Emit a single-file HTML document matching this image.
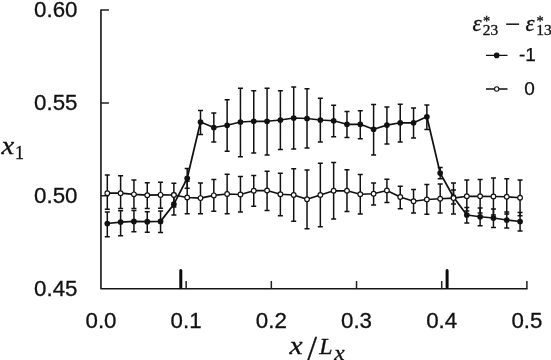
<!DOCTYPE html>
<html><head><meta charset="utf-8"><title>chart</title>
<style>
html,body{margin:0;padding:0;background:#fff;}
body{width:551px;height:360px;overflow:hidden;}
svg{display:block}
.t{font-family:"Liberation Sans",sans-serif;font-size:22.3px;fill:#111;stroke:#111;stroke-width:.3px}
.l{font-family:"Liberation Sans",sans-serif;font-size:19px;fill:#111;stroke:#111;stroke-width:.25px}
.m{font-family:"Liberation Serif","DejaVu Serif",serif;font-style:italic;fill:#111;stroke:#111;stroke-width:.3px}
</style></head><body>
<svg width="551" height="360" viewBox="0 0 551 360">
<rect width="551" height="360" fill="#fff"/>
<path d="M100.95 9.4V288.7H527.5" fill="none" stroke="#151515" stroke-width="1.6" stroke-linejoin="round"/><path d="M186.14 288.7v-7.6M271.33 288.7v-7.6M356.52 288.7v-7.6M441.71 288.7v-7.6M526.90 288.7v-7.6M100.95 195.80h8M100.95 102.90h8M100.95 10.00h8" fill="none" stroke="#222" stroke-width="1.5"/><path d="M180.8 287.2V270.4M447.1 287.2V270.4" fill="none" stroke="#0a0a0a" stroke-width="3" stroke-linecap="round"/>
<g fill="none" stroke="#111" stroke-width="1.5">
<path d="M107.30 212.00V236.70M104.80 212.00h5.0M104.80 236.70h5.0M120.61 210.80V235.70M118.11 210.80h5.0M118.11 235.70h5.0M133.93 210.40V231.80M131.43 210.40h5.0M131.43 231.80h5.0M147.25 211.80V232.20M144.75 211.80h5.0M144.75 232.20h5.0M160.56 211.00V232.50M158.06 211.00h5.0M158.06 232.50h5.0M173.88 193.50V215.00M171.38 193.50h5.0M171.38 215.00h5.0M187.19 168.40V188.30M184.69 168.40h5.0M184.69 188.30h5.0M200.50 110.50V134.50M198.00 110.50h5.0M198.00 134.50h5.0M213.82 113.00V142.00M211.32 113.00h5.0M211.32 142.00h5.0M227.13 99.75V151.25M224.63 99.75h5.0M224.63 151.25h5.0M240.45 88.25V156.75M237.95 88.25h5.0M237.95 156.75h5.0M253.76 90.75V153.00M251.26 90.75h5.0M251.26 153.00h5.0M267.08 88.25V155.00M264.58 88.25h5.0M264.58 155.00h5.0M280.39 90.75V149.50M277.89 90.75h5.0M277.89 149.50h5.0M293.71 87.00V149.00M291.21 87.00h5.0M291.21 149.00h5.0M307.02 88.75V148.00M304.52 88.75h5.0M304.52 148.00h5.0M320.34 98.25V142.00M317.84 98.25h5.0M317.84 142.00h5.0M333.65 105.25V136.75M331.15 105.25h5.0M331.15 136.75h5.0M346.97 111.50V137.50M344.47 111.50h5.0M344.47 137.50h5.0M360.28 110.75V138.75M357.78 110.75h5.0M357.78 138.75h5.0M373.60 104.50V155.00M371.10 104.50h5.0M371.10 155.00h5.0M386.92 107.00V144.10M384.42 107.00h5.0M384.42 144.10h5.0M400.23 104.25V142.00M397.73 104.25h5.0M397.73 142.00h5.0M413.55 108.00V138.00M411.05 108.00h5.0M411.05 138.00h5.0M426.86 105.00V129.50M424.36 105.00h5.0M424.36 129.50h5.0M440.18 167.50V178.75M437.68 167.50h5.0M437.68 178.75h5.0M453.49 190.00V204.00M450.99 190.00h5.0M450.99 204.00h5.0M466.81 207.50V223.00M464.31 207.50h5.0M464.31 223.00h5.0M480.12 208.00V225.75M477.62 208.00h5.0M477.62 225.75h5.0M493.44 209.00V227.50M490.94 209.00h5.0M490.94 227.50h5.0M506.75 212.00V228.00M504.25 212.00h5.0M504.25 228.00h5.0M520.06 212.50V231.00M517.56 212.50h5.0M517.56 231.00h5.0"/>
</g>
<path d="M107.30 223.50L120.61 222.10L133.93 221.40L147.25 221.70L160.56 221.40L173.88 204.20L187.19 178.30L200.50 122.00L213.82 127.50L227.13 125.25L240.45 122.00L253.76 121.25L267.08 121.25L280.39 120.00L293.71 118.00L307.02 118.50L320.34 120.00L333.65 120.75L346.97 124.25L360.28 124.25L373.60 129.25L386.92 125.10L400.23 122.75L413.55 122.75L426.86 116.75L440.18 173.10L453.49 197.00L466.81 215.00L480.12 216.75L493.44 218.00L506.75 220.00L520.06 221.50" fill="none" stroke="#111" stroke-width="1.75" stroke-linejoin="round"/>
<g fill="#111"><circle cx="107.30" cy="223.50" r="2.85"/><circle cx="120.61" cy="222.10" r="2.85"/><circle cx="133.93" cy="221.40" r="2.85"/><circle cx="147.25" cy="221.70" r="2.85"/><circle cx="160.56" cy="221.40" r="2.85"/><circle cx="173.88" cy="204.20" r="2.85"/><circle cx="187.19" cy="178.30" r="2.85"/><circle cx="200.50" cy="122.00" r="2.85"/><circle cx="213.82" cy="127.50" r="2.85"/><circle cx="227.13" cy="125.25" r="2.85"/><circle cx="240.45" cy="122.00" r="2.85"/><circle cx="253.76" cy="121.25" r="2.85"/><circle cx="267.08" cy="121.25" r="2.85"/><circle cx="280.39" cy="120.00" r="2.85"/><circle cx="293.71" cy="118.00" r="2.85"/><circle cx="307.02" cy="118.50" r="2.85"/><circle cx="320.34" cy="120.00" r="2.85"/><circle cx="333.65" cy="120.75" r="2.85"/><circle cx="346.97" cy="124.25" r="2.85"/><circle cx="360.28" cy="124.25" r="2.85"/><circle cx="373.60" cy="129.25" r="2.85"/><circle cx="386.92" cy="125.10" r="2.85"/><circle cx="400.23" cy="122.75" r="2.85"/><circle cx="413.55" cy="122.75" r="2.85"/><circle cx="426.86" cy="116.75" r="2.85"/><circle cx="440.18" cy="173.10" r="2.85"/><circle cx="453.49" cy="197.00" r="2.85"/><circle cx="466.81" cy="215.00" r="2.85"/><circle cx="480.12" cy="216.75" r="2.85"/><circle cx="493.44" cy="218.00" r="2.85"/><circle cx="506.75" cy="220.00" r="2.85"/><circle cx="520.06" cy="221.50" r="2.85"/></g>
<g fill="none" stroke="#111" stroke-width="1.5">
<path d="M107.30 175.00V209.20M104.80 175.00h5.0M104.80 209.20h5.0M120.61 175.70V208.50M118.11 175.70h5.0M118.11 208.50h5.0M133.93 180.00V208.50M131.43 180.00h5.0M131.43 208.50h5.0M147.25 182.80V208.50M144.75 182.80h5.0M144.75 208.50h5.0M160.56 182.30V208.20M158.06 182.30h5.0M158.06 208.20h5.0M173.88 183.20V207.00M171.38 183.20h5.0M171.38 207.00h5.0M187.19 181.20V213.80M184.69 181.20h5.0M184.69 213.80h5.0M200.50 183.00V213.70M198.00 183.00h5.0M198.00 213.70h5.0M213.82 179.50V211.25M211.32 179.50h5.0M211.32 211.25h5.0M227.13 174.25V213.75M224.63 174.25h5.0M224.63 213.75h5.0M240.45 176.50V212.00M237.95 176.50h5.0M237.95 212.00h5.0M253.76 175.50V206.25M251.26 175.50h5.0M251.26 206.25h5.0M267.08 171.25V210.50M264.58 171.25h5.0M264.58 210.50h5.0M280.39 173.25V215.75M277.89 173.25h5.0M277.89 215.75h5.0M293.71 168.75V221.25M291.21 168.75h5.0M291.21 221.25h5.0M307.02 170.00V228.75M304.52 170.00h5.0M304.52 228.75h5.0M320.34 163.25V226.75M317.84 163.25h5.0M317.84 226.75h5.0M333.65 162.50V219.00M331.15 162.50h5.0M331.15 219.00h5.0M346.97 169.75V211.50M344.47 169.75h5.0M344.47 211.50h5.0M360.28 174.50V214.00M357.78 174.50h5.0M357.78 214.00h5.0M373.60 183.00V205.00M371.10 183.00h5.0M371.10 205.00h5.0M386.92 179.25V202.50M384.42 179.25h5.0M384.42 202.50h5.0M400.23 186.25V208.75M397.73 186.25h5.0M397.73 208.75h5.0M413.55 189.50V213.00M411.05 189.50h5.0M411.05 213.00h5.0M426.86 184.50V214.25M424.36 184.50h5.0M424.36 214.25h5.0M440.18 184.00V213.00M437.68 184.00h5.0M437.68 213.00h5.0M453.49 183.00V213.90M450.99 183.00h5.0M450.99 213.90h5.0M466.81 180.00V211.00M464.31 180.00h5.0M464.31 211.00h5.0M480.12 179.50V213.00M477.62 179.50h5.0M477.62 213.00h5.0M493.44 178.00V215.00M490.94 178.00h5.0M490.94 215.00h5.0M506.75 178.75V214.00M504.25 178.75h5.0M504.25 214.00h5.0M520.06 180.00V215.75M517.56 180.00h5.0M517.56 215.75h5.0"/>
</g>
<path d="M107.30 193.20L120.61 193.20L133.93 194.30L147.25 195.20L160.56 194.90L173.88 195.00L187.19 197.50L200.50 198.10L213.82 195.40L227.13 194.00L240.45 194.50L253.76 190.75L267.08 190.50L280.39 194.25L293.71 195.00L307.02 199.25L320.34 195.00L333.65 190.75L346.97 190.75L360.28 194.25L373.60 193.75L386.92 190.50L400.23 197.00L413.55 201.25L426.86 199.50L440.18 198.75L453.49 198.10L466.81 196.25L480.12 196.25L493.44 196.50L506.75 196.75L520.06 197.75" fill="none" stroke="#111" stroke-width="1.75" stroke-linejoin="round"/>
<g fill="#fff" stroke="#111" stroke-width="1.15"><circle cx="107.30" cy="193.20" r="2.35"/><circle cx="120.61" cy="193.20" r="2.35"/><circle cx="133.93" cy="194.30" r="2.35"/><circle cx="147.25" cy="195.20" r="2.35"/><circle cx="160.56" cy="194.90" r="2.35"/><circle cx="173.88" cy="195.00" r="2.35"/><circle cx="187.19" cy="197.50" r="2.35"/><circle cx="200.50" cy="198.10" r="2.35"/><circle cx="213.82" cy="195.40" r="2.35"/><circle cx="227.13" cy="194.00" r="2.35"/><circle cx="240.45" cy="194.50" r="2.35"/><circle cx="253.76" cy="190.75" r="2.35"/><circle cx="267.08" cy="190.50" r="2.35"/><circle cx="280.39" cy="194.25" r="2.35"/><circle cx="293.71" cy="195.00" r="2.35"/><circle cx="307.02" cy="199.25" r="2.35"/><circle cx="320.34" cy="195.00" r="2.35"/><circle cx="333.65" cy="190.75" r="2.35"/><circle cx="346.97" cy="190.75" r="2.35"/><circle cx="360.28" cy="194.25" r="2.35"/><circle cx="373.60" cy="193.75" r="2.35"/><circle cx="386.92" cy="190.50" r="2.35"/><circle cx="400.23" cy="197.00" r="2.35"/><circle cx="413.55" cy="201.25" r="2.35"/><circle cx="426.86" cy="199.50" r="2.35"/><circle cx="440.18" cy="198.75" r="2.35"/><circle cx="453.49" cy="198.10" r="2.35"/><circle cx="466.81" cy="196.25" r="2.35"/><circle cx="480.12" cy="196.25" r="2.35"/><circle cx="493.44" cy="196.50" r="2.35"/><circle cx="506.75" cy="196.75" r="2.35"/><circle cx="520.06" cy="197.75" r="2.35"/></g>
<g class="t"><text x="101.0" y="327.6" text-anchor="middle">0.0</text><text x="186.1" y="327.6" text-anchor="middle">0.1</text><text x="271.3" y="327.6" text-anchor="middle">0.2</text><text x="356.5" y="327.6" text-anchor="middle">0.3</text><text x="441.7" y="327.6" text-anchor="middle">0.4</text><text x="526.9" y="327.6" text-anchor="middle">0.5</text><text x="77.5" y="295.8" text-anchor="end">0.45</text><text x="77.5" y="202.9" text-anchor="end">0.50</text><text x="77.5" y="110.0" text-anchor="end">0.55</text><text x="77.5" y="17.1" text-anchor="end">0.60</text></g>
<g class="m">
<text transform="translate(1.6 153.6) scale(1.1 1)" font-size="26">x</text><text x="15" y="159" font-size="18" font-style="normal">1</text>
<text transform="translate(289.6 354.2) scale(1.14 1)" font-size="26">x</text><text x="307" y="361.3" font-size="36" font-style="normal">/</text><text x="319.3" y="354.2" font-size="24">L</text><text transform="translate(334.3 359.8) scale(1.15 1)" font-size="20.5">x</text>
</g>
<g class="m">
<text x="472.5" y="30.5" font-size="23">ε</text><text x="483.1" y="25.8" font-size="14.5" font-style="normal">*</text><text transform="translate(482.8 34.8) scale(1.1 1)" font-size="14" font-style="normal">23</text>
<text x="505" y="33" font-size="27" font-style="normal">−</text>
<text x="525.5" y="30.5" font-size="23">ε</text><text x="536.6" y="25.8" font-size="14.5" font-style="normal">*</text><text transform="translate(536.3 34.8) scale(1.1 1)" font-size="14" font-style="normal">13</text>
</g>
<path d="M486 55.4H507.5M486 89H507.5" stroke="#111" stroke-width="1.4" fill="none"/>
<circle cx="496.7" cy="55.4" r="2.8" fill="#111"/>
<circle cx="496.7" cy="89" r="2.2" fill="#fff" stroke="#111" stroke-width="1.1"/>
<g class="l"><text x="519" y="60.9">-1</text><text x="524.2" y="95">0</text></g>
</svg>
</body></html>
